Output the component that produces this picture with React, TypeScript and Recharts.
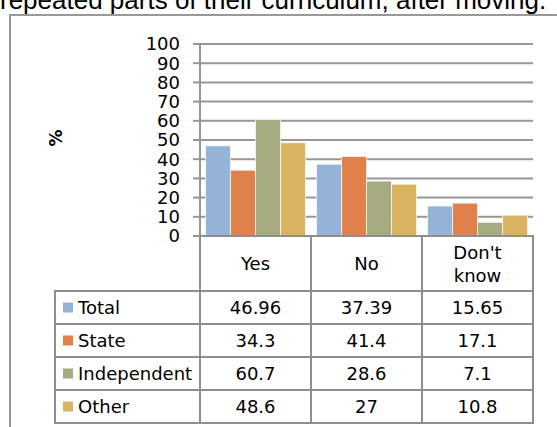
import { BarChart, Bar, XAxis, YAxis, CartesianGrid } from 'recharts';

const categories = ['Yes', 'No', "Don't know"];
const seriesNames = ['Total', 'State', 'Independent', 'Other'];
const seriesKeys = ['total', 'state', 'independent', 'other'];
const total = [46.96, 37.39, 15.65];
const state = [34.3, 41.4, 17.1];
const independent = [60.7, 28.6, 7.1];
const other = [48.6, 27, 10.8];
const yTicks = [0, 10, 20, 30, 40, 50, 60, 70, 80, 90, 100];

const seriesValues = [total, state, independent, other];
const colors = ['#95b3d7', '#e0804a', '#a6ab81', '#d9b35f'];

const data = categories.map((c, i) => ({
  category: c,
  total: total[i],
  state: state[i],
  independent: independent[i],
  other: other[i],
}));

const W = 557;
const H = 427;
const PLOT_LEFT = 200;
const PLOT_RIGHT = 533;
const PLOT_TOP = 44;
const PLOT_BOTTOM = 236;
const BAND = (PLOT_RIGHT - PLOT_LEFT) / categories.length;
const HEADER_H = 55;
const ROW_H = 33;
const LEGEND_LEFT = 55;
const LINE = '#8e8e8e';
const FONT = '"DejaVu Sans", sans-serif';

const TableTick = (props: any) => {
  const { x, y, index, payload } = props;
  const left = x - BAND / 2;
  const top = y;
  const lines = String(payload.value).split(' ');
  const headerMid = top + HEADER_H / 2;
  const lineH = 23;
  return (
    <g>
      <rect x={left} y={top} width={BAND} height={HEADER_H + ROW_H * seriesNames.length} fill="none" stroke={LINE} strokeWidth={2} />
      {lines.length === 1 ? (
        <text x={x} y={headerMid} textAnchor="middle" dominantBaseline="central" fontSize={18} fontFamily={FONT} fill="#000">
          {payload.value}
        </text>
      ) : (
        lines.map((l, k) => (
          <text key={k} x={x} y={headerMid + (k - (lines.length - 1) / 2) * lineH} textAnchor="middle" dominantBaseline="central" fontSize={18} fontFamily={FONT} fill="#000">
            {l}
          </text>
        ))
      )}
      {seriesValues.map((vals, r) => {
        const rt = top + HEADER_H + r * ROW_H;
        return (
          <g key={r}>
            <line x1={left} x2={left + BAND} y1={rt} y2={rt} stroke={LINE} strokeWidth={2} />
            <text x={x} y={rt + ROW_H / 2} textAnchor="middle" dominantBaseline="central" fontSize={18} fontFamily={FONT} fill="#000">
              {String(vals[index])}
            </text>
          </g>
        );
      })}
      {index === 0 && (
        <g>
          <rect x={LEGEND_LEFT} y={top + HEADER_H} width={left - LEGEND_LEFT} height={ROW_H * seriesNames.length} fill="none" stroke={LINE} strokeWidth={2} />
          {seriesNames.map((n, r) => {
            const rt = top + HEADER_H + r * ROW_H;
            return (
              <g key={n}>
                <line x1={LEGEND_LEFT} x2={left} y1={rt} y2={rt} stroke={LINE} strokeWidth={2} />
                <rect x={LEGEND_LEFT + 8} y={rt + ROW_H / 2 - 5} width={10} height={10} fill={colors[r]} />
                <text x={LEGEND_LEFT + 23} y={rt + ROW_H / 2} dominantBaseline="central" fontSize={18} fontFamily={FONT} fill="#000">
                  {n}
                </text>
              </g>
            );
          })}
        </g>
      )}
    </g>
  );
};

const PercentLabel = (props: any) => {
  const vb = props.viewBox || { x: 0, y: PLOT_TOP, height: PLOT_BOTTOM - PLOT_TOP };
  const cx = vb.x + 56;
  const cy = vb.y + vb.height / 2 - 2;
  return (
    <text x={cx} y={cy} transform={`rotate(-90 ${cx} ${cy})`} textAnchor="middle" dominantBaseline="central" fontSize={17} fontWeight="bold" fontFamily={FONT} fill="#000">
      %
    </text>
  );
};

export default function App() {
  return (
    <div style={{ position: 'absolute', left: 0, top: 0, width: W, height: H, background: '#fff', overflow: 'hidden' }}>
      <div style={{ position: 'absolute', left: 0, top: -15, fontFamily: '"Liberation Sans", Arial, sans-serif', fontSize: 26, lineHeight: '30px', whiteSpace: 'nowrap', color: '#000' }}>
        repeated parts of their curriculum, after moving.
      </div>
      <div style={{ position: 'absolute', left: 9, top: 14, width: W, height: H, borderLeft: '2px solid #999', borderTop: '2px solid #999' }} />
      <div style={{ position: 'absolute', left: 0, top: 0 }}>
        <BarChart
          width={W}
          height={H}
          data={data}
          margin={{ top: PLOT_TOP, right: W - PLOT_RIGHT, bottom: 0, left: 0 }}
          barCategoryGap="5%"
          barGap={0}
        >
          <CartesianGrid vertical={false} stroke="#969696" strokeWidth={2} />
          <YAxis
            width={PLOT_LEFT}
            domain={[0, 100]}
            ticks={yTicks}
            interval={0}
            tickSize={7}
            tickMargin={13}
            axisLine={{ stroke: '#969696', strokeWidth: 2 }}
            tickLine={{ stroke: '#969696', strokeWidth: 2 }}
            tick={{ fill: '#000', fontSize: 18, fontFamily: FONT }}
            label={{ content: PercentLabel }}
          />
          <XAxis
            dataKey="category"
            height={H - PLOT_BOTTOM}
            interval={0}
            tickSize={0}
            tickMargin={0}
            tickLine={false}
            axisLine={{ stroke: LINE, strokeWidth: 2 }}
            tick={TableTick}
          />
          {seriesKeys.map((k, i) => (
            <Bar key={k} dataKey={k} name={seriesNames[i]} fill={colors[i]} stroke="#ffffff" strokeOpacity={0.7} strokeWidth={1} isAnimationActive={false} />
          ))}
        </BarChart>
      </div>
    </div>
  );
}
